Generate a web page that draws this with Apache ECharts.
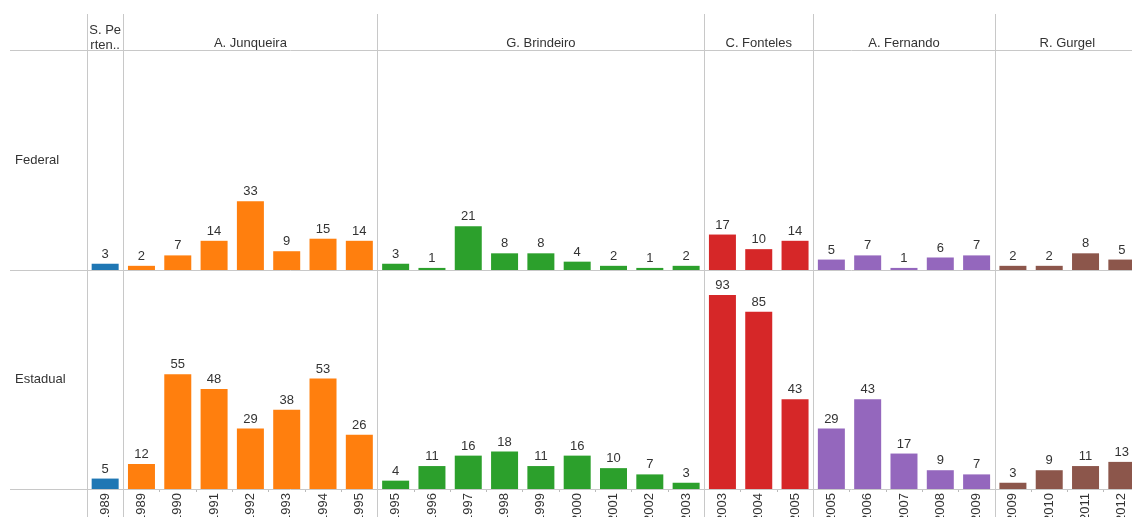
<!DOCTYPE html>
<html>
<head>
<meta charset="utf-8">
<script src="https://cdn.jsdelivr.net/npm/echarts@6/dist/echarts.min.js"></script>
<style>
  html, body { margin: 0; padding: 0; background: #fff; overflow: hidden; }
  #chart { width: 1132px; height: 517px; }
</style>
</head>
<body>
<div id="chart"></div>
<script>
// Column headers (one per term) and the years listed under each one
const groupLabels = ['S. Pe\nrten..', 'A. Junqueira', 'G. Brindeiro', 'C. Fonteles', 'A. Fernando', 'R. Gurgel'];
const groupYears = [
  [1989],
  [1989, 1990, 1991, 1992, 1993, 1994, 1995],
  [1995, 1996, 1997, 1998, 1999, 2000, 2001, 2002, 2003],
  [2003, 2004, 2005],
  [2005, 2006, 2007, 2008, 2009],
  [2009, 2010, 2011, 2012]
];
const groupColors = ['#1f77b4', '#ff7f0e', '#2ca02c', '#d62728', '#9467bd', '#8c564b'];

// Row labels
const rowLabels = ['Federal', 'Estadual'];

// Counts per year, by row
const federal = [
  [3],
  [2, 7, 14, 33, 9, 15, 14],
  [3, 1, 21, 8, 8, 4, 2, 1, 2],
  [17, 10, 14],
  [5, 7, 1, 6, 7],
  [2, 2, 8, 5]
];
const estadual = [
  [5],
  [12, 55, 48, 29, 38, 53, 26],
  [4, 11, 16, 18, 11, 16, 10, 7, 3],
  [93, 85, 43],
  [29, 43, 17, 9, 7],
  [3, 9, 11, 13]
];

const FONT = '"Liberation Sans", Arial, sans-serif';
const RULE = '#c8c8c8';
const FS = 13;

// Flatten into one category axis; keys stay unique as "group|year"
const cats = [];
const fedData = [];
const estData = [];
const groupStart = [];
groupYears.forEach((years, g) => {
  groupStart.push(cats.length);
  years.forEach((y, i) => {
    cats.push(g + '|' + y);
    fedData.push({ value: federal[g][i], itemStyle: { color: groupColors[g] } });
    estData.push({ value: estadual[g][i], itemStyle: { color: groupColors[g] } });
  });
});

const chart = echarts.init(document.getElementById('chart'), null, { renderer: 'canvas' });

const barLabel = {
  show: true,
  position: 'top',
  distance: 3,
  fontSize: FS,
  color: '#333',
  fontFamily: FONT
};

const option = {
  animation: false,
  backgroundColor: '#fff',
  grid: [
    { left: 87, top: 51, width: 1053, height: 219, containLabel: false, outerBoundsMode: 'none' },
    { left: 87, top: 270, width: 1053, height: 219, containLabel: false, outerBoundsMode: 'none' }
  ],
  xAxis: [
    {
      gridIndex: 0, type: 'category', data: cats,
      axisLine: { show: false }, axisTick: { show: false }, axisLabel: { show: false }
    },
    {
      gridIndex: 1, type: 'category', data: cats,
      axisLine: { show: false },
      axisTick: { show: true, length: 3, lineStyle: { color: '#bbb' } },
      axisLabel: {
        interval: 0, rotate: 90, margin: 4, fontSize: FS, color: '#333', fontFamily: FONT,
        formatter: v => v.split('|')[1]
      }
    }
  ],
  yAxis: [
    { gridIndex: 0, type: 'value', min: 0, max: 105, show: false },
    { gridIndex: 1, type: 'value', min: 0, max: 105, show: false }
  ],
  series: [
    { type: 'bar', xAxisIndex: 0, yAxisIndex: 0, data: fedData, barWidth: 27, label: barLabel, z: 3 },
    { type: 'bar', xAxisIndex: 1, yAxisIndex: 1, data: estData, barWidth: 27, label: barLabel, z: 3 }
  ]
};
chart.setOption(option);

// Rules, headers and row labels placed from the axis scales
function decorate() {
  const band = chart.convertToPixel({ xAxisIndex: 1 }, 1) - chart.convertToPixel({ xAxisIndex: 1 }, 0);
  const xCenter = i => chart.convertToPixel({ xAxisIndex: 1 }, i);
  const base0 = chart.convertToPixel({ yAxisIndex: 0 }, 0);
  const base1 = chart.convertToPixel({ yAxisIndex: 1 }, 0);
  const top0 = chart.convertToPixel({ yAxisIndex: 0 }, 105);
  const graphics = [];

  const hLine = y => ({
    type: 'line', silent: true, z: 1,
    shape: { x1: 10, y1: y, x2: 1132, y2: y },
    style: { stroke: RULE, lineWidth: 1 }
  });
  graphics.push(hLine(Math.round(top0) - 0.5));
  graphics.push(hLine(Math.round(base0) + 0.5));
  graphics.push(hLine(Math.round(base1) + 0.5));

  groupStart.forEach((s, g) => {
    const xl = Math.round(xCenter(s) - band / 2) + 0.5;
    graphics.push({
      type: 'line', silent: true, z: 1,
      shape: { x1: xl, y1: 14, x2: xl, y2: 517 },
      style: { stroke: RULE, lineWidth: 1 }
    });
    const n = groupYears[g].length;
    const cx = (xCenter(s) + xCenter(s + n - 1)) / 2;
    const multi = groupLabels[g].indexOf('\n') >= 0;
    graphics.push({
      type: 'text', silent: true,
      x: cx, y: multi ? 38 : 43,
      style: {
        text: groupLabels[g], fill: '#333', font: FS + 'px ' + FONT,
        align: 'center', verticalAlign: 'middle', lineHeight: 15
      }
    });
  });

  const mid0 = (top0 + base0) / 2;
  const mid1 = (base0 + base1) / 2;
  [mid0, mid1].forEach((y, r) => {
    graphics.push({
      type: 'text', silent: true, x: 15, y: y,
      style: { text: rowLabels[r], fill: '#333', font: FS + 'px ' + FONT, align: 'left', verticalAlign: 'middle' }
    });
  });

  chart.setOption({ graphic: graphics });
}
decorate();
</script>
</body>
</html>
